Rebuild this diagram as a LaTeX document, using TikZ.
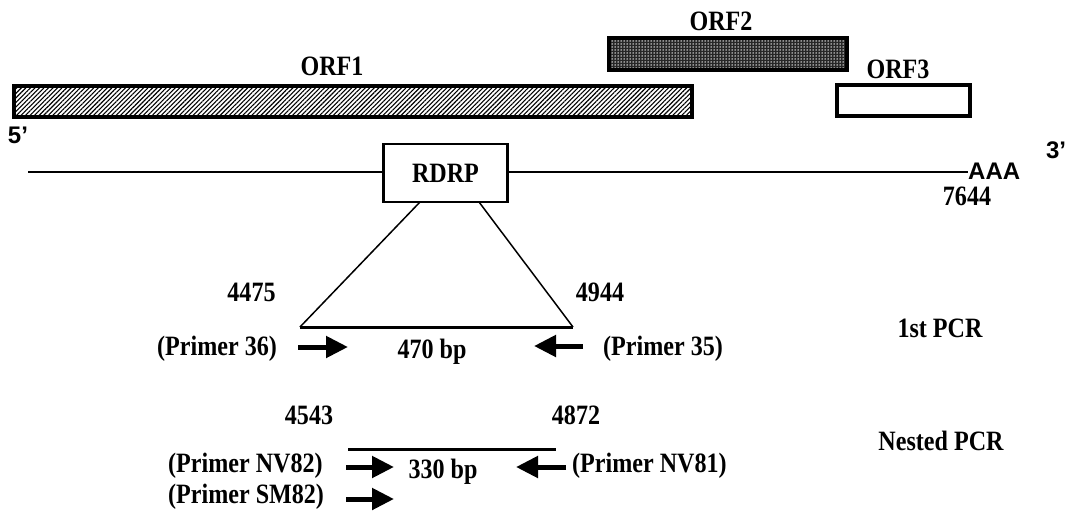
\documentclass[tikz,border=0pt]{standalone}
\usepackage{fontspec}
\setmainfont{Liberation Serif}[FakeStretch=0.86]
\newfontfamily\arialf{Liberation Sans}
\usetikzlibrary{patterns,patterns.meta,arrows.meta}
\begin{document}
\begin{tikzpicture}[x=1pt,y=-1pt,
  lbl/.style={font=\fontsize{28}{30}\selectfont\bfseries, inner sep=0pt},
  slbl/.style={font=\arialf\fontsize{24}{26}\selectfont\bfseries, inner sep=0pt},
  orfbox/.style={draw, line width=3.5pt},
  primer/.style={line width=5pt, -{Triangle[length=22pt,width=21pt]}},
  seg/.style={line width=1.5pt},
  thickseg/.style={line width=3pt}]
\useasboundingbox (0,0) rectangle (1066,512);
% ORF boxes
\draw[orfbox, pattern={Lines[angle=45,distance=3.2pt,line width=1.1pt]}] (14,86) rectangle (692,117);
\fill[black!85] (609,38) rectangle (847,70);
\fill[pattern={Dots[distance=3pt,radius=0.75pt]}, pattern color=white] (609,38) rectangle (847,70);
\draw[orfbox] (609,38) rectangle (847,70);
\draw[orfbox] (837,85) rectangle (970,116);
\node[lbl] (lorf1) at (332,66) {ORF1};
\node[lbl] (lorf2) at (721,21) {ORF2};
\node[lbl] (lorf3) at (898,69) {ORF3};
% genome line
\node[slbl] (five) at (18,135) {5’};
\node[slbl] (three) at (1056,150) {3’};
\node[draw, line width=2.5pt, minimum width=124pt, minimum height=58pt, inner sep=0pt, font=\fontsize{28}{30}\selectfont\bfseries] (rdrp) at (445.5,173) {RDRP};
\coordinate (gstart) at (28,172);
\node[slbl, anchor=west] (aaa) at (968,171) {AAA};
\draw[line width=2.5pt] (gstart) -- (rdrp.west |- gstart);
\draw[line width=2.5pt] (rdrp.east |- gstart) -- (aaa.west |- gstart);
\node[lbl] (n7644) at (967,196) {7644};
% triangle
\coordinate (tl) at (300,327);
\coordinate (tr) at (573,327);
\coordinate (rl) at (420,202);
\coordinate (rr) at (479,202);
\draw[seg] (rl) -- (tl);
\draw[seg] (rr) -- (tr);
\draw[thickseg] (tl) -- (tr);
\node[lbl] (n4475) at (251.5,292) {4475};
\node[lbl] (n4944) at (600,292) {4944};
\node[lbl] (pcr1) at (940,328) {1st PCR};
% first primers
\node[lbl] (p36) at (217,349) {(Primer 36)};
\node[lbl] (bp470) at (432,352) {470 bp};
\node[lbl] (p35) at (663,349) {(Primer 35)};
\coordinate (a1s) at (298,347); \coordinate (a1e) at (348,347);
\coordinate (a2s) at (583,346); \coordinate (a2e) at (534,346);
\draw[primer] (a1s) -- (a1e);
\draw[primer] (a2s) -- (a2e);
% nested
\node[lbl] (n4543) at (309,415) {4543};
\node[lbl] (n4872) at (576,415) {4872};
\node[lbl] (npcr) at (941,441) {Nested PCR};
\coordinate (nl) at (348,449); \coordinate (nr) at (556,449);
\draw[thickseg] (nl) -- (nr);
\node[lbl, anchor=west] (nv82) at (168,466) {(Primer NV82)};
\node[lbl] (bp330) at (443,472) {330 bp};
\node[lbl, anchor=west] (nv81) at (572,466) {(Primer NV81)};
\node[lbl, anchor=west] (sm82) at (168,497) {(Primer SM82)};
\coordinate (b1s) at (346,467); \coordinate (b1e) at (394,467);
\coordinate (b2s) at (566,467); \coordinate (b2e) at (516,467);
\coordinate (b3s) at (346,499); \coordinate (b3e) at (394,499);
\draw[primer] (b1s) -- (b1e);
\draw[primer] (b2s) -- (b2e);
\draw[primer] (b3s) -- (b3e);
\end{tikzpicture}
\end{document}
